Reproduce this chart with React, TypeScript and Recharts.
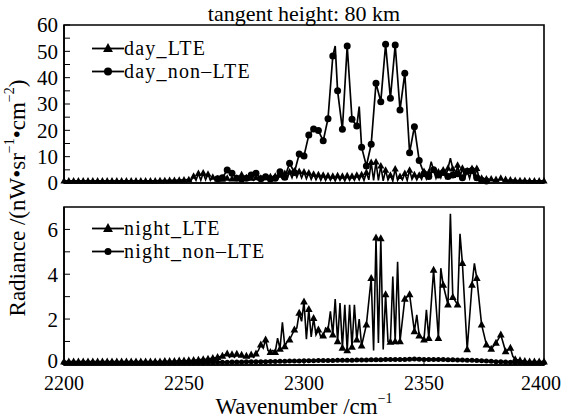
import { LineChart, Line, XAxis, YAxis, ReferenceArea, Legend } from "recharts";

// "no vertex here" – the line runs straight through
const _ = null;

const FONT = "'Liberation Serif', 'Times New Roman', serif";

const WAVENUMBER_START = 2200; // cm-1, one value per 1 cm-1
const X_TICKS = [2200, 2250, 2300, 2350, 2400];
const DAY_Y_TICKS = [0, 5, 10, 15, 20, 25, 30, 35, 40, 45, 50, 55, 60];
const NIGHT_Y_TICKS = [0, 1, 2, 3, 4, 5, 6];

const TITLE = "tangent height: 80 km";
const DAY_NAMES = ["day_LTE", "day_non–LTE"];
const NIGHT_NAMES = ["night_LTE", "night_non–LTE"];

// top panel, triangles
const DAY_LTE = [
  0.8, _, 0.8, _, 0.8, _, 0.8, _, 0.8, _, // 2200
  0.8, _, 0.8, _, 0.8, _, 0.8, _, 0.8, _, // 2210
  0.8, _, 0.8, _, 0.8, _, 0.8, _, 0.8, _, // 2220
  0.8, _, 0.8, _, 0.8, _, 0.8, _, 0.8, _, // 2230
  0.9, _, 0.9, _, 1.0, _, 1.0, _, 1.1, _, // 2240
  1.2, _, 1.3, 1.0, 2.6, 1.0, 3.6, 1.0, 3.8, 1.2, // 2250
  3.4, 1.0, 2.2, 1.2, 1.6, 1.3, 1.5, 1.2, 1.8, 1.0, // 2260
  1.6, 1.2, 1.8, 1.4, 3.2, 1.1, 2.0, 1.2, 1.8, 1.0, // 2270
  2.0, 1.2, 1.8, 1.0, 2.0, 1.3, 2.4, 1.2, 2.6, 1.4, // 2280
  3.0, 1.6, 3.6, 1.8, 4.2, 2.0, 4.6, 2.2, 4.4, 2.0, // 2290
  4.2, 1.6, 3.8, 1.4, 3.4, 1.2, 3.2, 1.0, 3.0, 1.0, // 2300
  2.8, 1.0, 2.6, 0.8, 2.8, 1.0, 2.6, 0.8, 2.8, 1.0, // 2310
  2.6, 1.0, 3.0, 1.2, 3.2, 1.0, 4.0, 1.2, 7.8, 1.0, // 2320
  8.0, 1.0, 6.5, 0.8, 4.9, 1.2, 3.0, 0.8, 5.4, 1.0, // 2330
  2.5, 1.2, 3.6, 1.0, 4.9, 1.4, 3.2, 1.2, 3.0, 1.4, // 2340
  4.4, 1.6, 4.0, 8.1, 4.8, 1.8, 4.2, 2.0, 5.0, 2.2, // 2350
  5.6, 9.4, 5.4, 2.0, 6.8, 2.2, 5.6, 2.0, 4.6, 1.8, // 2360
  5.5, 2.0, 5.5, 1.6, 1.8, 1.2, 1.6, 1.0, 1.6, 1.0, // 2370
  1.4, 1.0, 1.8, 1.0, 1.4, 0.9, 1.2, _, 1.0, _, // 2380
  0.9, _, 0.9, _, 0.8, _, 0.8, _, 0.8, _, // 2390
  0.8, // 2400
];

// top panel, circles
const DAY_NON_LTE = [
  _, _, _, _, _, _, _, _, _, _, // 2200
  _, _, _, _, _, _, _, _, _, _, // 2210
  _, _, _, _, _, _, _, _, _, _, // 2220
  _, _, _, _, _, _, _, _, _, _, // 2230
  _, _, _, _, _, _, _, _, _, _, // 2240
  _, _, _, _, _, _, _, _, _, _, // 2250
  _, _, _, _, 1.6, _, 2.0, _, 4.9, _, // 2260
  3.7, _, 1.8, _, 1.5, _, 1.8, _, 3.0, _, // 2270
  3.7, _, 1.6, _, 2.4, _, 1.5, _, 1.8, _, // 2280
  4.3, _, 2.2, _, 7.5, _, 4.0, _, 11.0, _, // 2290
  10.3, _, 18.2, _, 20.5, _, 19.9, _, 16.0, _, // 2300
  24.4, _, 48.2, 52.0, 35.0, _, 20.4, _, 52.0, _, // 2310
  24.2, _, 21.6, 29.0, 13.6, _, 6.5, _, 14.7, _, // 2320
  37.9, _, 30.9, _, 52.7, _, 32.2, _, 52.4, _, // 2330
  27.7, _, 41.7, _, 11.5, _, 21.4, _, 8.5, _, // 2340
  3.5, _, 2.5, _, 5.0, _, 3.0, _, 4.0, _, // 2350
  2.5, _, 3.0, _, 3.5, _, 2.0, _, 4.5, _, // 2360
  4.7, _, 2.0, _, 1.0, _, 0.8, _, _, _, // 2370
  _, _, _, _, _, _, _, _, _, _, // 2380
  _, _, _, _, _, _, _, _, _, _, // 2390
  _, // 2400
];

// bottom panel, triangles
const NIGHT_LTE = [
  0.1, _, 0.1, _, 0.1, _, 0.1, _, 0.1, _, // 2200
  0.1, _, 0.1, _, 0.1, _, 0.1, _, 0.1, _, // 2210
  0.1, _, 0.1, _, 0.1, _, 0.1, _, 0.1, _, // 2220
  0.1, _, 0.1, _, 0.1, _, 0.1, _, 0.1, _, // 2230
  0.1, _, 0.12, _, 0.12, _, 0.12, _, 0.14, _, // 2240
  0.14, _, 0.15, _, 0.16, _, 0.18, _, 0.2, _, // 2250
  0.22, _, 0.25, _, 0.3, _, 0.35, _, 0.45, 0.3, // 2260
  0.42, 0.3, 0.44, 0.35, 0.4, 0.3, 0.35, 0.28, 0.41, 0.3, // 2270
  0.45, 0.6, 0.86, 0.7, 1.08, 0.6, 0.52, 0.6, 0.52, 1.15, // 2280
  0.67, 1.85, 0.78, 1.0, 1.08, 1.3, 1.52, 1.6, 2.27, 1.9, // 2290
  2.78, 1.1, 2.44, 1.2, 2.04, 1.3, 1.52, 1.2, 1.26, 1.6, // 2300
  1.52, 2.34, 1.3, 2.89, 1.0, 2.71, 0.71, 2.64, 0.6, 2.64, // 2310
  0.76, 2.64, 1.08, 2.0, 0.81, _, 1.75, _, 3.82, 0.6, // 2320
  5.63, 0.93, 5.6, 0.64, 3.1, 1.0, 0.98, 3.9, 1.0, 4.56, // 2330
  1.0, _, 2.9, _, 3.1, _, 1.45, 2.19, 1.26, _, // 2340
  1.08, 2.41, 1.15, _, 4.19, _, 1.15, 4.27, 3.52, _, // 2350
  2.64, 6.7, 2.98, _, 2.64, 5.8, 4.49, _, 0.64, _, // 2360
  3.52, 4.49, 3.82, _, 1.75, _, 0.86, _, 0.67, _, // 2370
  0.93, _, 1.3, _, 0.56, _, 0.71, 0.34, 0.2, _, // 2380
  0.15, _, 0.12, _, 0.1, _, 0.1, _, 0.1, _, // 2390
  0.1, // 2400
];

// bottom panel, circles
const NIGHT_NON_LTE = [
  0.05, _, 0.05, _, 0.05, _, 0.05, _, 0.05, _, // 2200
  0.05, _, 0.05, _, 0.05, _, 0.05, _, 0.05, _, // 2210
  0.05, _, 0.05, _, 0.05, _, 0.05, _, 0.05, _, // 2220
  0.05, _, 0.05, _, 0.05, _, 0.05, _, 0.05, _, // 2230
  0.05, _, 0.05, _, 0.05, _, 0.05, _, 0.05, _, // 2240
  0.05, _, 0.05, _, 0.05, _, 0.05, _, 0.05, _, // 2250
  0.06, _, 0.06, _, 0.07, _, 0.07, _, 0.07, _, // 2260
  0.08, _, 0.08, _, 0.08, _, 0.09, _, 0.09, _, // 2270
  0.09, _, 0.1, _, 0.1, _, 0.11, _, 0.11, _, // 2280
  0.12, _, 0.12, _, 0.13, _, 0.13, _, 0.13, _, // 2290
  0.14, _, 0.14, _, 0.14, _, 0.15, _, 0.15, _, // 2300
  0.15, _, 0.15, _, 0.16, _, 0.16, _, 0.16, _, // 2310
  0.16, _, 0.17, _, 0.17, _, 0.17, _, 0.18, _, // 2320
  0.18, _, 0.18, _, 0.19, _, 0.19, _, 0.19, _, // 2330
  0.2, _, 0.2, _, 0.21, _, 0.22, _, 0.21, _, // 2340
  0.2, _, 0.2, _, 0.19, _, 0.19, _, 0.19, _, // 2350
  0.18, _, 0.18, _, 0.17, _, 0.17, _, 0.16, _, // 2360
  0.16, _, 0.15, _, 0.14, _, 0.13, _, 0.12, _, // 2370
  0.1, _, 0.09, _, 0.08, _, 0.07, _, 0.06, _, // 2380
  0.06, _, 0.05, _, 0.05, _, 0.05, _, 0.05, _, // 2390
  0.05, // 2400
];

const WAVENUMBERS = DAY_LTE.map((_v, i) => WAVENUMBER_START + i);

const dayData = WAVENUMBERS.map((w, i) => ({
  w,
  lte: DAY_LTE[i],
  nonLte: DAY_NON_LTE[i],
}));

const nightData = WAVENUMBERS.map((w, i) => ({
  w,
  lte: NIGHT_LTE[i],
  nonLte: NIGHT_NON_LTE[i],
}));

type Shape = "triangle" | "circle";

const Marker = ({ shape, x, y, size }: { shape: Shape; x: number; y: number; size: number }) =>
  shape === "circle" ? (
    <circle cx={x} cy={y} r={size / 2} fill="#000" />
  ) : (
    <polygon
      points={`${x},${y - size * 0.6} ${x - size * 0.55},${y + size * 0.4} ${x + size * 0.55},${y + size * 0.4}`}
      fill="#000"
    />
  );

// markers on every second wavenumber, none on the in-between spikes
const markerDot = (shape: Shape, size: number) => (props: any) => {
  const { cx, cy, index, value } = props;
  if (value == null || cy == null || Number.isNaN(cy) || index % 2 !== 0) {
    return <g key={`d-${index}`} />;
  }
  return (
    <g key={`d-${index}`}>
      <Marker shape={shape} x={cx} y={cy} size={size} />
    </g>
  );
};

const legendContent = (names: string[], sizes: number[]) => () => (
  <div style={{ fontFamily: FONT, fontSize: 20, letterSpacing: 1.2, color: "#000" }}>
    {names.map((name, i) => (
      <div key={name} style={{ display: "flex", alignItems: "center", height: 23 }}>
        <svg width={32} height={23} style={{ display: "block" }}>
          <line x1={0} y1={11.5} x2={32} y2={11.5} stroke="#000" strokeWidth={1.8} />
          <Marker shape={i === 0 ? "triangle" : "circle"} x={16} y={11.5} size={sizes[i]} />
        </svg>
        <span style={{ lineHeight: "23px" }}>{name}</span>
      </div>
    ))}
  </div>
);

const tickStyle = { fill: "#000", fontSize: 21, fontFamily: FONT };

// x tick labels; the last one is kept inside the picture
const XTick = (props: any) => {
  const { x, y, payload } = props;
  const right = x + 21;
  const shift = right > 562 ? 562 - right : 0;
  return (
    <text
      x={x + shift}
      y={y}
      dy="0.75em"
      textAnchor="middle"
      fill="#000"
      fontSize={20}
      fontFamily={FONT}
    >
      {payload.value}
    </text>
  );
};

// y tick labels of the lower panel; the "0" is lifted clear of the x labels
const NightYTick = (props: any) => {
  const { x, y, payload } = props;
  if (payload.value % 2 !== 0) return <g />;
  return (
    <text
      x={x}
      y={payload.value === 0 ? y - 3 : y}
      dy="0.355em"
      textAnchor="end"
      fill="#000"
      fontSize={21}
      fontFamily={FONT}
    >
      {payload.value}
    </text>
  );
};

const App = () => {
  return (
    <div
      style={{
        position: "absolute",
        left: 0,
        top: 0,
        width: 563,
        height: 420,
        background: "#fff",
        overflow: "hidden",
        fontFamily: FONT,
      }}
    >
      <div style={{ position: "absolute", left: 0, top: 0 }}>
        <LineChart
          width={563}
          height={200}
          data={dayData}
          margin={{ top: 25, right: 19, bottom: 16, left: 14 }}
        >
          <XAxis
            dataKey="w"
            type="number"
            domain={[2200, 2400]}
            ticks={X_TICKS}
            tick={false}
            tickSize={-6}
            height={1}
            axisLine={{ stroke: "#000", strokeWidth: 1.6 }}
            tickLine={{ stroke: "#000" }}
          />
          <YAxis
            type="number"
            domain={[0, 60]}
            ticks={DAY_Y_TICKS}
            interval={0}
            tickFormatter={(v: number) => (v % 10 === 0 ? String(v) : "")}
            width={50}
            tickSize={-6}
            tickMargin={12}
            tick={tickStyle}
            axisLine={{ stroke: "#000", strokeWidth: 1.6 }}
            tickLine={{ stroke: "#000" }}
          />
          <ReferenceArea
            x1={2200}
            x2={2400}
            y1={0}
            y2={60}
            fill="none"
            fillOpacity={0}
            stroke="#000"
            strokeWidth={1.6}
          />
          <Line
            dataKey="nonLte"
            stroke="#000"
            strokeWidth={1.7}
            connectNulls
            dot={markerDot("circle", 7)}
            activeDot={false}
            isAnimationActive={false}
          />
          <Line
            dataKey="lte"
            stroke="#000"
            strokeWidth={1.6}
            connectNulls
            dot={markerDot("triangle", 6.5)}
            activeDot={false}
            isAnimationActive={false}
          />
          <Legend
            layout="vertical"
            align="center"
            verticalAlign="middle"
            wrapperStyle={{ left: 92, top: 37 }}
            content={legendContent(DAY_NAMES, [9, 8])}
          />
        </LineChart>
      </div>

      <div style={{ position: "absolute", left: 0, top: 200 }}>
        <LineChart
          width={563}
          height={220}
          data={nightData}
          margin={{ top: 7, right: 19, bottom: 25, left: 14 }}
        >
          <XAxis
            dataKey="w"
            type="number"
            domain={[2200, 2400]}
            ticks={X_TICKS}
            interval={0}
            height={30}
            tickSize={-6}
            tickMargin={16}
            tick={<XTick />}
            axisLine={{ stroke: "#000", strokeWidth: 1.6 }}
            tickLine={{ stroke: "#000" }}
          />
          <YAxis
            type="number"
            domain={[-0.05, 7]}
            ticks={NIGHT_Y_TICKS}
            interval={0}
            width={50}
            tickSize={-6}
            tickMargin={12}
            tick={<NightYTick />}
            axisLine={{ stroke: "#000", strokeWidth: 1.6 }}
            tickLine={{ stroke: "#000" }}
          />
          <ReferenceArea
            x1={2200}
            x2={2400}
            y1={-0.05}
            y2={7}
            fill="none"
            fillOpacity={0}
            stroke="#000"
            strokeWidth={1.6}
          />
          <Line
            dataKey="nonLte"
            stroke="#000"
            strokeWidth={2.6}
            connectNulls
            dot={markerDot("circle", 5)}
            activeDot={false}
            isAnimationActive={false}
          />
          <Line
            dataKey="lte"
            stroke="#000"
            strokeWidth={1.6}
            connectNulls
            dot={markerDot("triangle", 7)}
            activeDot={false}
            isAnimationActive={false}
          />
          <Legend
            layout="vertical"
            align="center"
            verticalAlign="middle"
            wrapperStyle={{ left: 92, top: 17 }}
            content={legendContent(NIGHT_NAMES, [9, 7])}
          />
        </LineChart>
      </div>

      <svg
        width={563}
        height={420}
        style={{ position: "absolute", left: 0, top: 0, pointerEvents: "none" }}
        fontFamily={FONT}
        fill="#000"
      >
        <text x={304} y={13} textAnchor="middle" dominantBaseline="central" fontSize={22}>
          {TITLE}
        </text>
        <text
          x={17}
          y={198}
          textAnchor="middle"
          dominantBaseline="central"
          fontSize={23}
          transform="rotate(-90 17 198)"
        >
          Radiance /(nW•sr
          <tspan dy={-8} fontSize={14}>−1</tspan>
          <tspan dy={8}>•cm</tspan>
          <tspan dy={-8} fontSize={14}>−2</tspan>
          <tspan dy={8}>)</tspan>
        </text>
        <text x={304} y={406} textAnchor="middle" dominantBaseline="central" fontSize={23}>
          Wavenumber /cm
          <tspan dy={-8} fontSize={14}>−1</tspan>
        </text>
      </svg>
    </div>
  );
};

export default App;
